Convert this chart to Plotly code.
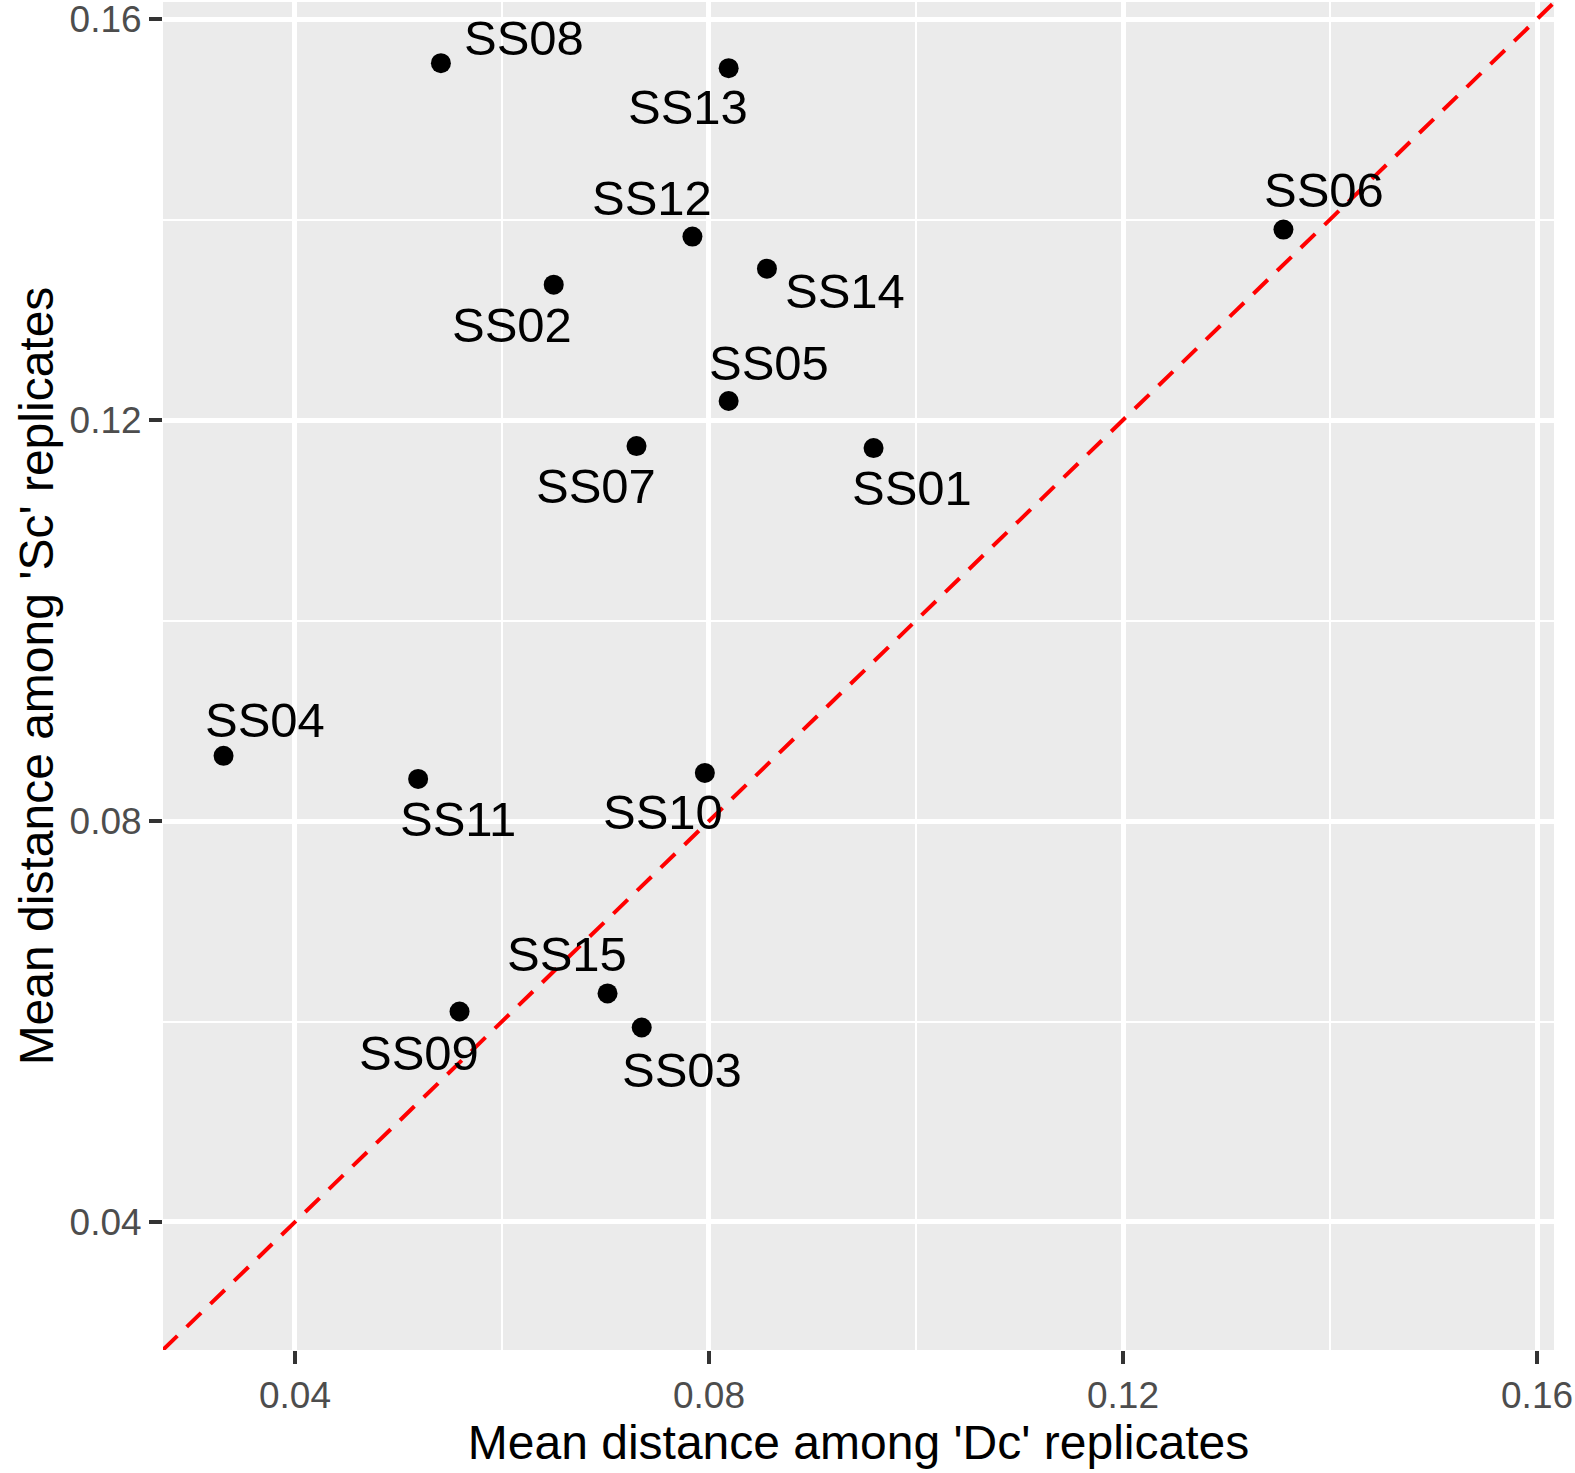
import plotly.graph_objects as go

# sample ids and their mean replicate distances
samples = ["SS01", "SS02", "SS03", "SS04", "SS05", "SS06", "SS07", "SS08",
           "SS09", "SS10", "SS11", "SS12", "SS13", "SS14", "SS15"]
dc_dist = [0.0959, 0.0650, 0.0735, 0.0331, 0.0819, 0.1355, 0.0730, 0.0541,
           0.0559, 0.0796, 0.0519, 0.0784, 0.0819, 0.0856, 0.0702]
sc_dist = [0.1172, 0.1335, 0.0594, 0.0865, 0.1219, 0.1390, 0.1174, 0.1556,
           0.0610, 0.0848, 0.0842, 0.1383, 0.1551, 0.1351, 0.0628]

# label offsets in pixels (right, down) like ggrepel placed them
label_dx = [38, -42, 40, 41, 40, 41, -41, 83, -41, -42, 40, -40, -41, 78, -41]
label_dy = [40, 40, 42, -36, -38, -40, 40, -25, 42, 39, 40, -39, 39, 22, -39]

x_range = [0.02725, 0.16164]
y_range = [0.02723, 0.1617]
ticks = [0.04, 0.08, 0.12, 0.16]
tick_text = ["0.04", "0.08", "0.12", "0.16"]

font = "Liberation Sans, Arial, Helvetica, sans-serif"

fig = go.Figure()

# y = x reference line
lo = max(x_range[0], y_range[0])
hi = min(x_range[1], y_range[1])
fig.add_trace(go.Scatter(x=[lo, hi], y=[lo, hi], mode="lines",
                         line=dict(color="#FF0000", width=4, dash="20px,13px"),
                         hoverinfo="skip", showlegend=False))

fig.add_trace(go.Scatter(x=dc_dist, y=sc_dist, mode="markers", text=samples,
                         marker=dict(color="black", size=20),
                         showlegend=False))

for s, x, y, dx, dy in zip(samples, dc_dist, sc_dist, label_dx, label_dy):
  fig.add_annotation(x=x, y=y, text=s, showarrow=False,
                     xshift=dx, yshift=-dy, xanchor="center", yanchor="middle",
                     font=dict(family=font, size=49, color="black"))

axis_common = dict(
  tickvals=ticks, ticktext=tick_text,
  showgrid=True, gridcolor="white", gridwidth=4.5,
  minor=dict(dtick=0.02, tick0=0.0, showgrid=True, gridcolor="white",
             gridwidth=2.3, ticks=""),
  ticks="outside", ticklen=13, tickwidth=4, tickcolor="#333333",
  tickfont=dict(family=font, size=37, color="#4D4D4D"),
  zeroline=False, showline=False, automargin=False,
  ticklabeloverflow="allow",
)

fig.update_xaxes(range=x_range,
                 title=dict(text="Mean distance among 'Dc' replicates",
                            font=dict(family=font, size=48, color="black"),
                            standoff=6),
                 **axis_common)
fig.update_yaxes(range=y_range,
                 title=dict(text="Mean distance among 'Sc' replicates",
                            font=dict(family=font, size=48, color="black"),
                            standoff=0),
                 **axis_common)

fig.update_layout(width=1575, height=1473,
                  margin=dict(l=163, r=21, t=2, b=123),
                  plot_bgcolor="#EBEBEB", paper_bgcolor="white",
                  font=dict(family=font))

# drop the browser's default page margin so the figure sits at the corner
fig.write_html("out.html", config={"displayModeBar": False},
               post_script="document.body.style.margin='0';")
